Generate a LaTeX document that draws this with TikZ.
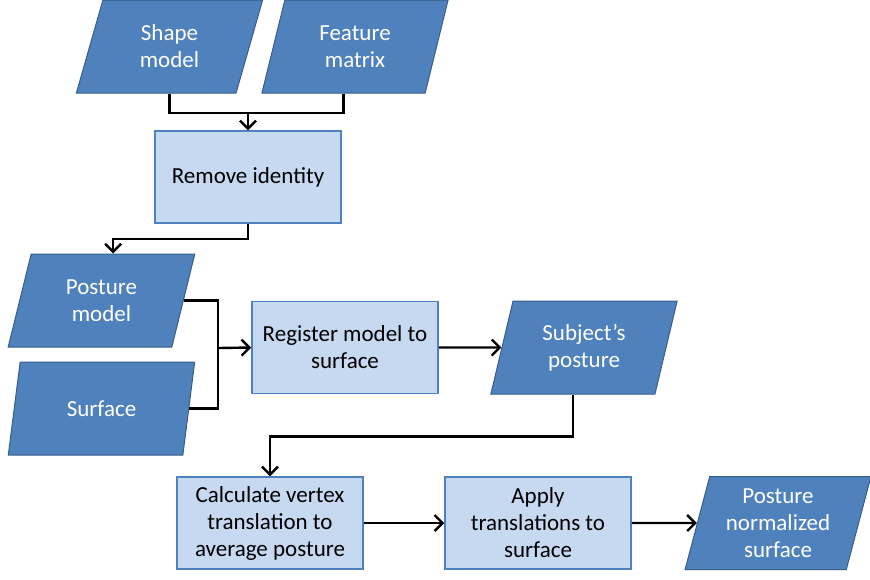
\documentclass[tikz,border=0pt]{standalone}
\usepackage{fontspec}
\setmainfont{Carlito}
\usetikzlibrary{shapes.geometric,arrows.meta,calc}
\definecolor{darkblue}{HTML}{4F81BD}
\definecolor{edgeblue}{HTML}{385D8A}
\definecolor{lightblue}{HTML}{C6D9F1}
\begin{document}
\begin{tikzpicture}[
        x=0.5pt,
        y=-0.5pt,
        thick,
        font=\fontsize{11.5}{13.5}\selectfont
    ]
    \tikzset{
        datanode/.style = {trapezium, trapezium left angle=75, trapezium right angle=105,
            trapezium stretches=true, minimum width=93.5pt, minimum height=46.5pt,
            draw=edgeblue, line width=0.5pt, fill=darkblue, text=white, align=center, inner sep=1pt},
        procnode/.style = {rectangle, draw=darkblue, line width=0.75pt, fill=lightblue,
            minimum width=93pt, minimum height=46pt, align=center, inner sep=1pt},
        conn/.style = {-,line width=1.2pt,black},
        connar/.style = {-{Straight Barb[length=4pt,width=8pt,line width=1.2pt]},line width=1.2pt,black},
    }
    \useasboundingbox (0,0) rectangle (870,579);
    \node[datanode] at (169.5,46.5) (shape) {Shape\\model};
    \node[datanode] at (355,46.5) (feat) {Feature\\matrix};
    \node[procnode] at (248,177) (remove) {Remove identity};
    \node[datanode] at (101.5,300.5) (posture) {Posture\\model};
    \node[datanode] at (101.5,408.5) (surface) {Surface};
    \node[procnode] at (345,347.5) (register) {Register model to\\surface};
    \node[datanode] at (584,347.5) (subject) {Subject’s\\posture};
    \node[procnode] at (270,523) (calc) {Calculate vertex\\translation to\\average posture};
    \node[procnode] at (538,523) (apply) {Apply\\translations to\\surface};
    \node[datanode] at (778,523) (postnorm) {Posture\\normalized\\surface};
    %
    \coordinate (j1) at (248,113);
    \coordinate (j2) at (218,348);
    \coordinate (feat-b) at ($(feat.bottom left corner)!0.5!(feat.bottom right corner)$);
    \coordinate (posture-t) at ($(posture.top left corner)!0.5!(posture.top right corner)$);
    \coordinate (subject-b) at ($(subject.bottom left corner)!0.5!(subject.bottom right corner)$);
    %
    \draw[conn] (shape.south) |- (j1);
    \draw[conn] (feat-b) |- (j1);
    \draw[connar] (j1) -- (remove.north);
    \draw[connar] (remove.south) -- ++(0,15) -| (posture-t);
    %
    \draw[conn] (posture.east) -| (j2);
    \draw[conn] (surface.east) -| (j2);
    \draw[connar] (j2) -- (register.west);
    \draw[connar] (register.east) -- (subject.west);
    %
    \draw[connar] (subject-b) -- ++(0,42) -| (calc.north);
    \draw[connar] (calc.east) -- (apply.west);
    \draw[connar] (apply.east) -- (postnorm.west);
\end{tikzpicture}
\end{document}
